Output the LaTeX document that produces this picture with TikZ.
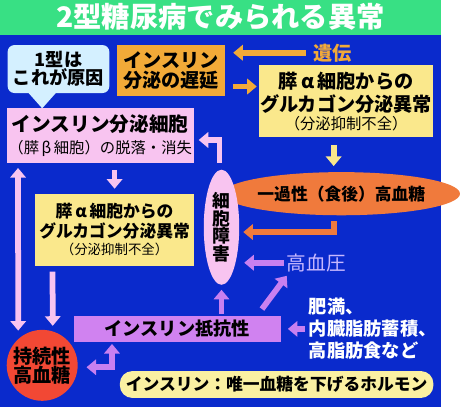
\documentclass[tikz,border=0pt]{standalone}
\usepackage{fontspec}
\newfontfamily\jp{Noto Sans CJK JP}
\usetikzlibrary{arrows.meta,calc,shapes.geometric}
\definecolor{bgblue}{RGB}{10,42,204}
\definecolor{titlegreen}{RGB}{56,224,132}
\definecolor{calloutblue}{RGB}{212,240,255}
\definecolor{delayorange}{RGB}{242,170,56}
\definecolor{paleyellow}{RGB}{250,232,140}
\definecolor{hotorange}{RGB}{240,122,60}
\definecolor{cellpink}{RGB}{248,196,240}
\definecolor{resistpurple}{RGB}{208,130,240}
\definecolor{arrowpurple}{RGB}{200,128,240}
\definecolor{lavender}{RGB}{200,184,255}
\definecolor{persistred}{RGB}{242,72,52}
\definecolor{pillyellow}{RGB}{250,240,162}
\newcommand{\fs}[2]{\fontsize{#1}{#2}\selectfont}
\begin{document}
\begin{tikzpicture}[x=1pt,y=-1pt,
  box/.style={align=center,inner sep=0pt,font=\jp\bfseries,text=black},
  fat/.style={line width=6pt,-{Triangle[width=16pt,length=10pt]}},
  fatboth/.style={line width=6pt,{Triangle[width=16pt,length=10pt]}-{Triangle[width=16pt,length=10pt]}}]
\fill[bgblue] (0,0) rectangle (460,424);
\fill[titlegreen] (0,0) rectangle (460,37);
\node[font=\jp\bfseries\fs{29.5}{30},text=white] (title) at (230,18) {2型糖尿病でみられる異常};
\node[box,fill=calloutblue,rounded corners=7pt,minimum width=106pt,minimum height=50pt,font=\jp\bfseries\fs{19}{19}] (type1) at (61,72) {1型は\\これが原因};
\fill[calloutblue] (28,95) -- (60,95) -- (44,113) -- cycle;
\node[box,fill=delayorange,minimum width=113pt,minimum height=53pt,font=\jp\bfseries\fs{20}{20}] (delay) at (178.5,73.5) {インスリン\\分泌の遅延};
\node[box,fill=paleyellow,minimum width=182pt,minimum height=75pt,font=\jp\bfseries\fs{20}{24}] (glucTop) at (361,105.5) {膵\,α\,細胞からの\\グルカゴン分泌異常\\[-5pt]{\mdseries\fs{16}{17}（分泌抑制不全）}};
\node[box,ellipse,fill=hotorange,minimum width=193pt,minimum height=45pt,font=\jp\bfseries\fs{17.5}{20}] (transient) at (356,202) {一過性（食後）高血糖};
\node[box,fill=cellpink,minimum width=195pt,minimum height=57pt,font=\jp\bfseries\fs{20.5}{23}] (cellLoss) at (104.5,141.5) {インスリン分泌細胞\\{\mdseries\fs{16}{17}（膵\,β\,細胞）の脱落・消失}};
\node[box,fill=paleyellow,minimum width=165pt,minimum height=75pt,font=\jp\bfseries\fs{17.5}{21}] (glucLow) at (119.5,239.5) {膵\,α\,細胞からの\\グルカゴン分泌異常\\[-3pt]{\mdseries\fs{14}{16}（分泌抑制不全）}};
\node[box,ellipse,fill=cellpink,minimum width=37pt,minimum height=120pt,font=\jp\bfseries\fs{18.5}{17.5}] (damage) at (231,237) {細\\胞\\障\\害};
\node[inner sep=0pt,font=\jp\fs{20.5}{22},text=lavender] (hbp) at (330,274) {高血圧};
\node[box,fill=resistpurple,minimum width=216pt,minimum height=27pt,font=\jp\bfseries\fs{19}{20}] (resist) at (185,343) {インスリン抵抗性};
\node[inner sep=0pt,anchor=west,align=left,font=\jp\bfseries\fs{19}{23},text=white] (obese) at (322,343) {肥満、\\内臓脂肪蓄積、\\高脂肪食など};
\node[box,circle,fill=persistred,minimum size=74pt,font=\jp\bfseries\fs{20}{20}] (persist) at (44,381) {持続性\\高血糖};
\node[box,fill=pillyellow,rounded corners=13pt,minimum width=327pt,minimum height=28pt,font=\jp\bfseries\fs{17.5}{19}] (hormone) at (288.5,401) {インスリン：唯一血糖を下げるホルモン};
\node[inner sep=0pt,font=\jp\bfseries\fs{20}{20},text=delayorange] (gene) at (347,55) {遺伝};
\draw[fat,delayorange,shorten <=8pt,shorten >=8pt] (gene.west) -- (delay.east |- gene.west);
\draw[fat,delayorange] ($(delay.south east)+(8,-10)$) -- ($(glucTop.west |- delay.south east)+(-2,-10)$);
\draw[fat,paleyellow,shorten <=8pt,shorten >=7pt] ($(glucTop.south)+(-13,0)$) -- ($(glucTop.south -| transient.north)+(-8,37)$);
\draw[fat,hotorange] ($(transient.south)+(-8,6)$) |- ($(damage.east)+(4,5)$);
\draw[fat,cellpink] ($(damage.north)+(-2,-7)$) |- ($(cellLoss.east)+(5,4.5)$);
\draw[fat,arrowpurple,shorten <=3pt,shorten >=5pt] (hbp.west) -- (damage.east |- hbp.west);
\draw[fat,arrowpurple,shorten <=2pt,shorten >=5pt] (damage.south |- resist.north) -- (damage.south);
\draw[fat,arrowpurple] ($(resist.north east)+(-20,-7)$) -- ($(hbp.south west)+(0,4)$);
\draw[fat,arrowpurple,shorten <=4pt,shorten >=7pt] (obese.west) -- (resist.east);
\draw[fat,cellpink,shorten <=7pt,shorten >=5pt] (glucLow.north |- cellLoss.south) -- (glucLow.north);
\draw[fatboth,cellpink] ($(cellLoss.south west)+(12,5)$) -- ($(persist.north)+(-25,1)$);
\draw[fat,cellpink] ($(glucLow.south west)+(18,6)$) -- ($(persist.north)+(11,-4)$);
\draw[fatboth,arrowpurple] ($(persist.east)+(9,2)$) -| ($(resist.south west)+(40,2)$);
\end{tikzpicture}
\end{document}
